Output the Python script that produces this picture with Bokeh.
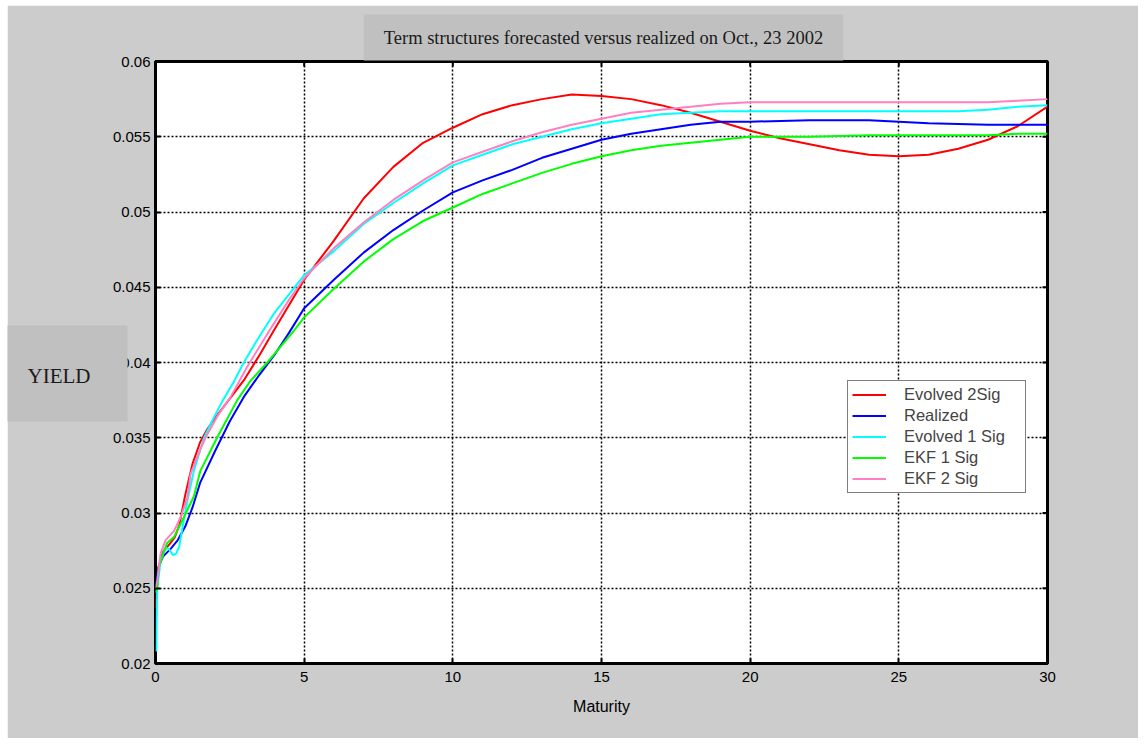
import math
from bokeh.plotting import figure
from bokeh.models import Label, Legend, LegendItem, FixedTicker, Range1d
from bokeh.embed import file_html
from bokeh.resources import INLINE

title_text = "Term structures forecasted versus realized on Oct., 23 2002"
ylabel_text = "YIELD"
xlabel_text = "Maturity"

x_ticks = [0, 5, 10, 15, 20, 25, 30]
y_ticks = [0.02, 0.025, 0.03, 0.035, 0.04, 0.045, 0.05, 0.055, 0.06]
y_tick_labels = ["0.02", "0.025", "0.03", "0.035", "0.04", "0.045", "0.05", "0.055", "0.06"]

red_x = [0, 0.05, 0.1, 0.25, 0.5, 0.65, 0.8, 1, 1.25, 1.5, 1.75, 2, 2.5, 3, 3.5, 4, 5, 6, 7, 8, 9, 10,
         11, 12, 13, 14, 15, 16, 17, 18, 19, 20, 21, 22, 23, 24, 25, 26, 27, 28, 29, 30]
red_y = [0.0237, 0.0252, 0.0264, 0.0274, 0.0280, 0.0284, 0.0292, 0.0312, 0.0333, 0.0347, 0.0356, 0.0363,
         0.0376, 0.0389, 0.0405, 0.0422, 0.0455, 0.0481, 0.0509, 0.0530, 0.0546, 0.0556, 0.0565, 0.0571,
         0.0575, 0.0578, 0.0577, 0.0575, 0.0571, 0.0566, 0.0560, 0.0554, 0.0549, 0.0545, 0.0541, 0.0538,
         0.0537, 0.0538, 0.0542, 0.0548, 0.0557, 0.0570]

blue_x = [0, 0.05, 0.1, 0.25, 0.5, 0.75, 1, 1.25, 1.5, 2, 2.5, 3, 3.5, 4, 4.5, 5, 6, 7, 8, 9, 10, 11, 12,
          13, 14, 15, 16, 17, 18, 19, 20, 22, 24, 26, 28, 30]
blue_y = [0.0250, 0.0258, 0.0264, 0.0271, 0.0276, 0.0282, 0.0291, 0.0304, 0.0320, 0.0341, 0.0361, 0.0378,
          0.0392, 0.0405, 0.0420, 0.0436, 0.0455, 0.0473, 0.0488, 0.0501, 0.0513, 0.0521, 0.0528, 0.0536,
          0.0542, 0.0548, 0.0552, 0.0555, 0.0558, 0.0560, 0.0560, 0.0561, 0.0561, 0.0559, 0.0558, 0.0558]

cyan_x = [0.03, 0.04, 0.06, 0.17, 0.34, 0.45, 0.59, 0.7, 0.8, 0.95, 1.07, 1.29, 1.63, 1.9, 2.24, 2.63,
          2.97, 3.42, 4, 5, 6, 7, 8, 9, 10, 11, 12, 13, 14, 15, 16, 17, 18, 19, 20, 22, 24, 26, 27, 28,
          29, 30]
cyan_y = [0.0208, 0.0230, 0.0250, 0.0268, 0.0277, 0.0276, 0.0272, 0.0273, 0.0278, 0.0295, 0.0308, 0.0328,
          0.0350, 0.0361, 0.0374, 0.0387, 0.0400, 0.0415, 0.0433, 0.0458, 0.0474, 0.0492, 0.0506, 0.0519,
          0.0531, 0.0538, 0.0545, 0.0550, 0.0555, 0.0559, 0.0562, 0.0565, 0.0566, 0.0567, 0.0567, 0.0567,
          0.0567, 0.0567, 0.0567, 0.0568, 0.0570, 0.0571]

green_x = [0, 0.06, 0.11, 0.28, 0.39, 0.62, 0.95, 1.29, 1.51, 2.07, 2.75, 3.2, 3.76, 4.65, 5, 6, 7, 8, 9,
           10, 11, 12, 13, 14, 15, 16, 17, 18, 19, 20, 22, 24, 26, 28, 29, 30]
green_y = [0.0247, 0.0250, 0.0264, 0.0274, 0.0280, 0.0284, 0.0297, 0.0311, 0.0328, 0.0350, 0.0375, 0.0388,
           0.0400, 0.0421, 0.0430, 0.0449, 0.0467, 0.0482, 0.0494, 0.0503, 0.0512, 0.0519, 0.0526, 0.0532,
           0.0537, 0.0541, 0.0544, 0.0546, 0.0548, 0.0550, 0.0550, 0.0551, 0.0551, 0.0551, 0.0552, 0.0552]

pink_x = [0, 0.06, 0.17, 0.34, 0.62, 0.84, 1.07, 1.18, 1.5, 1.68, 2.07, 2.52, 3.08, 3.76, 4.5, 5, 6, 7, 8,
          9, 10, 11, 12, 13, 14, 15, 16, 17, 18, 19, 20, 22, 24, 26, 28, 29, 30]
pink_y = [0.0250, 0.0255, 0.0273, 0.0282, 0.0288, 0.0297, 0.0310, 0.0326, 0.0342, 0.0350, 0.0364, 0.0377,
          0.0397, 0.0419, 0.0442, 0.0456, 0.0476, 0.0493, 0.0508, 0.0521, 0.0533, 0.0540, 0.0547, 0.0553,
          0.0558, 0.0562, 0.0566, 0.0568, 0.0570, 0.0572, 0.0573, 0.0573, 0.0573, 0.0573, 0.0573, 0.0574,
          0.0575]

series_names = ["Evolved 2Sig", "Realized", "Evolved 1 Sig", "EKF 1 Sig", "EKF 2 Sig"]
series_colors = ["#ff0000", "#0000ff", "#00ffff", "#00ff00", "#ff80c0"]
series_x = [red_x, blue_x, cyan_x, green_x, pink_x]
series_y = [red_y, blue_y, cyan_y, green_y, pink_y]

x_min, x_max = 0, 30
y_min, y_max = 0.02, 0.06

p = figure(width=1131, height=733, output_backend="svg", toolbar_location=None,
           x_range=Range1d(x_min, x_max), y_range=Range1d(y_min, y_max), margin=(5, 0, 0, 7),
           min_border_left=148, min_border_right=91, min_border_top=56, min_border_bottom=75)
p.border_fill_color = "#cccccc"
p.background_fill_color = "white"
p.outline_line_color = "black"
p.outline_line_width = 3

for ax in p.xaxis:
    ax.ticker = FixedTicker(ticks=x_ticks)
for ax in p.yaxis:
    ax.ticker = FixedTicker(ticks=y_ticks)
    ax.major_label_overrides = {t: l for t, l in zip(y_ticks, y_tick_labels)}

for ax in list(p.xaxis) + list(p.yaxis):
    ax.axis_line_color = None
    ax.major_tick_in = 5
    ax.major_tick_out = 0
    ax.major_tick_line_width = 2
    ax.minor_tick_line_color = None
    ax.major_label_text_font = "Liberation Sans"
    ax.major_label_text_font_size = "15px"
    ax.major_label_text_color = "black"
p.xaxis.major_label_standoff = 8
p.yaxis.major_label_standoff = 5

p.xaxis.axis_label = xlabel_text
p.xaxis.axis_label_text_font = "Liberation Sans"
p.xaxis.axis_label_text_font_size = "16px"
p.xaxis.axis_label_text_font_style = "normal"
p.xaxis.axis_label_text_color = "black"
p.xaxis.axis_label_standoff = 13

p.xgrid.ticker = FixedTicker(ticks=x_ticks)
p.ygrid.ticker = FixedTicker(ticks=y_ticks)
for g in [p.xgrid, p.ygrid]:
    g.grid_line_color = "black"
    g.grid_line_dash = "2 2"
    g.grid_line_width = 1.5
    g.grid_line_alpha = 1.0

items = []
for name, col, xs, ys in zip(series_names, series_colors, series_x, series_y):
    r = p.line(xs, ys, line_color=col, line_width=2)
    items.append(LegendItem(label=name, renderers=[r]))

# inward tick marks on the top and right edges of the box (half clipped by the frame)
p.scatter(x=x_ticks, y=[y_max] * len(x_ticks), marker="dash", size=10, angle=math.pi / 2,
          line_color="black", line_width=2)
p.scatter(x=[x_max] * len(y_ticks), y=y_ticks, marker="dash", size=10,
          line_color="black", line_width=2)

legend = Legend(items=items, location=(692, 170), margin=0, padding=4, spacing=2,
                label_text_font="Liberation Sans", label_text_font_size="16.5px",
                label_height=19, glyph_height=19, glyph_width=34, label_standoff=18,
                label_width=117,
                border_line_color="black", border_line_width=1, background_fill_color="white",
                background_fill_alpha=1.0)
p.add_layout(legend)

title_lbl = Label(x=596, y=32, x_units="canvas", y_units="canvas", text=title_text,
                  text_align="center", text_baseline="middle",
                  text_font="Liberation Serif", text_font_size="18.5px", text_color="#1a1a1a",
                  background_fill_color="#c0c0c0", background_fill_alpha=1.0,
                  padding=dict(left=20, right=20, top=13, bottom=13))
p.add_layout(title_lbl, "above")

y_lbl = Label(x=60, y=368, x_units="canvas", y_units="canvas", text=ylabel_text,
              text_align="center", text_baseline="middle",
              text_font="Liberation Serif", text_font_size="21px", text_color="#1a1a1a",
              background_fill_color="#c0c0c0", background_fill_alpha=1.0,
              border_line_color="#c0c0c0", border_line_width=20, border_line_join="miter",
              padding=dict(left=10, right=27, top=28, bottom=24))
p.add_layout(y_lbl, "left")

open("out.html", "w").write(file_html(p, INLINE))
